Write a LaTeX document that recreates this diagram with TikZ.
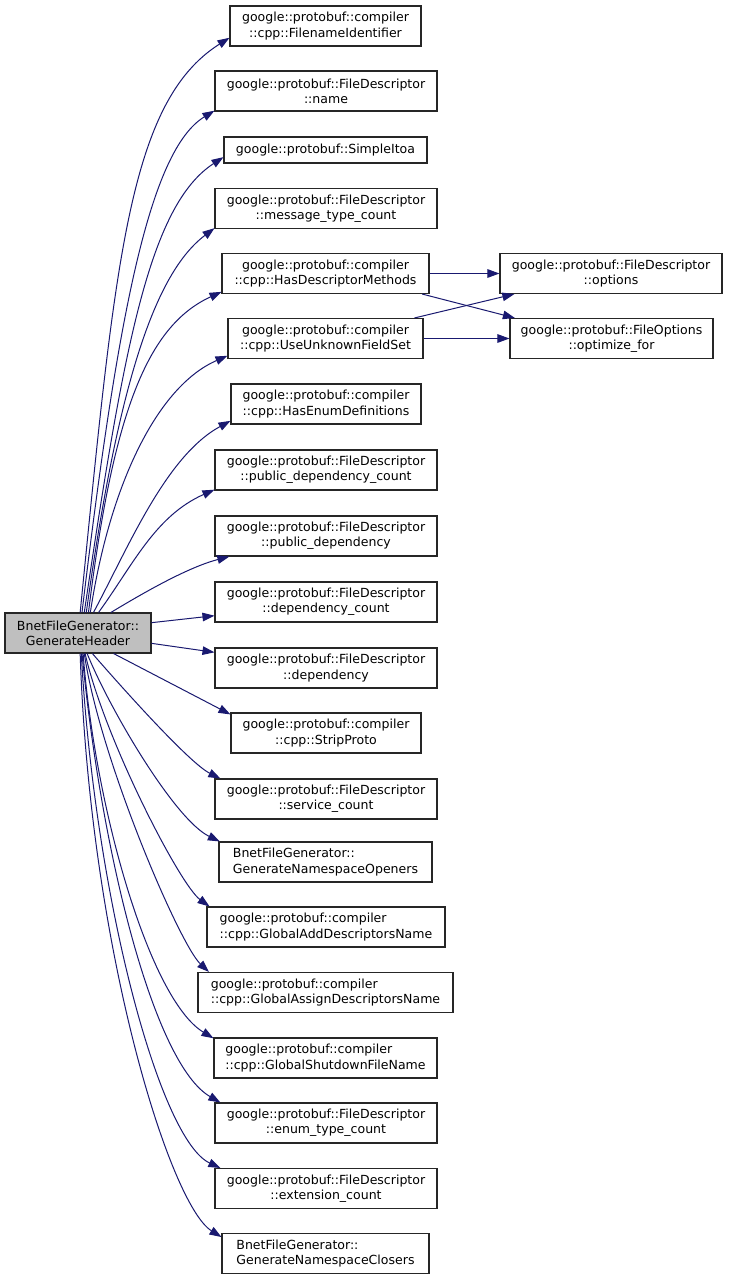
\documentclass[tikz,border=0pt]{standalone}
\usepackage{fontspec}
\setmainfont{DejaVu Sans}
\usetikzlibrary{arrows.meta}
\definecolor{midnight}{HTML}{191970}

\begin{document}
\begin{tikzpicture}[x=0.75pt, y=-0.75pt, >={Triangle[length=9pt,width=6.4pt]},
    fn/.style={draw=black!85, line width=0.8pt, fill=white, minimum height=30pt,
        inner sep=0pt, align=center, font=\fontsize{9.4}{11.4}\selectfont},
    fnl/.style={fn, align=left},
    wd/.style={minimum width=#1*0.75pt},
    call/.style={->, draw=midnight, fill=none, line width=0.75pt}]
    % Sfondo
    \fill[white] (0,0) rectangle (728,1280);

    % Nodo principale
    \node[fn, wd=146, fill=gray!50] (main) at (78,633) {BnetFileGenerator::\\GenerateHeader};

    % Funzioni chiamate
    \node[fn, wd=191] (fid) at (325.5,26) {google::protobuf::compiler\\::cpp::FilenameIdentifier};
    \node[fn, wd=222] (fdname) at (326,91) {google::protobuf::FileDescriptor\\::name};
    \node[fn, wd=203, minimum height=19.5pt] (itoa) at (325.5,150) {google::protobuf::SimpleItoa};
    \node[fn, wd=222] (msgc) at (326,208.5) {google::protobuf::FileDescriptor\\::message\_type\_count};
    \node[fn, wd=207] (hdm) at (325.5,273.5) {google::protobuf::compiler\\::cpp::HasDescriptorMethods};
    \node[fn, wd=195] (uufs) at (325.5,338.5) {google::protobuf::compiler\\::cpp::UseUnknownFieldSet};
    \node[fn, wd=190] (hed) at (326,404) {google::protobuf::compiler\\::cpp::HasEnumDefinitions};
    \node[fn, wd=222] (pdc) at (326,470) {google::protobuf::FileDescriptor\\::public\_dependency\_count};
    \node[fn, wd=222] (pd) at (326,536) {google::protobuf::FileDescriptor\\::public\_dependency};
    \node[fn, wd=222] (dc) at (326,602) {google::protobuf::FileDescriptor\\::dependency\_count};
    \node[fn, wd=222] (dep) at (326,668) {google::protobuf::FileDescriptor\\::dependency};
    \node[fn, wd=190] (strip) at (326,733) {google::protobuf::compiler\\::cpp::StripProto};
    \node[fn, wd=222] (svc) at (326,799) {google::protobuf::FileDescriptor\\::service\_count};
    \node[fnl, wd=213] (gno) at (325.5,862) {BnetFileGenerator::\\GenerateNamespaceOpeners};
    \node[fnl, wd=238] (gadn) at (326,927) {google::protobuf::compiler\\::cpp::GlobalAddDescriptorsName};
    \node[fnl, wd=255] (gasn) at (325.5,992.5) {google::protobuf::compiler\\::cpp::GlobalAssignDescriptorsName};
    \node[fnl, wd=223] (gsfn) at (325.5,1058) {google::protobuf::compiler\\::cpp::GlobalShutdownFileName};
    \node[fn, wd=222] (enumc) at (326,1123) {google::protobuf::FileDescriptor\\::enum\_type\_count};
    \node[fn, wd=222] (extc) at (326,1188.5) {google::protobuf::FileDescriptor\\::extension\_count};
    \node[fnl, wd=207] (gnc) at (325.5,1253.5) {BnetFileGenerator::\\GenerateNamespaceClosers};

    % Secondo livello
    \node[fn, wd=222] (opts) at (611,273.5) {google::protobuf::FileDescriptor\\::options};
    \node[fn, wd=203] (optfor) at (611.5,338.5) {google::protobuf::FileOptions\\::optimize\_for};

    % Archi verso l'alto
    \draw[call] (main.84) .. controls (115,263) and (128,102) .. (fid.187);
    \draw[call] (main.79) .. controls (118,311) and (150,150) .. (fdname.190);
    \draw[call] (main.73) .. controls (124,343) and (150,205) .. (itoa.184);
    \draw[call] (main.68) .. controls (118,383) and (155,273) .. (msgc.190);
    \draw[call] (main.63) .. controls (113,413) and (147,326) .. (hdm.190);
    \draw[call] (main.59) .. controls (110,483) and (158,386) .. (uufs.190);
    \draw[call] (main.53) .. controls (129,546) and (166,456) .. (hed.190);
    \draw[call] (main.45) .. controls (133,565) and (155,516) .. (pdc.190);
    \draw[call] (main.32) .. controls (135,598) and (185,568) .. (pd.192);

    % Archi diretti
    \draw[call] (main.8) -- (dc.187);
    \draw[call] (main.352) -- (dep.172);
    \draw[call] (main.330) -- (strip.169);

    % Archi verso il basso
    \draw[call] (main.305) .. controls (118,683) and (189,763) .. (svc.169);
    \draw[call] (main.294) .. controls (110,710) and (175,820) .. (gno.169);
    \draw[call] (main.289) .. controls (105,740) and (180,885) .. (gadn.170);
    \draw[call] (main.287) .. controls (100,760) and (180,945) .. (gasn.170);
    \draw[call] (main.284) .. controls (95,810) and (150,1000) .. (gsfn.170);
    \draw[call] (main.281) .. controls (102,860) and (155,1065) .. (enumc.169);
    \draw[call] (main.279) .. controls (95,900) and (160,1140) .. (extc.169);
    \draw[call] (main.276) .. controls (90,950) and (170,1205) .. (gnc.171);

    % Chiamate interne
    \draw[call] (hdm) -- (opts);
    \draw[call] (hdm.348) -- (optfor.168);
    \draw[call] (uufs.13) -- (opts.192);
    \draw[call] (uufs) -- (optfor);
\end{tikzpicture}
\end{document}
